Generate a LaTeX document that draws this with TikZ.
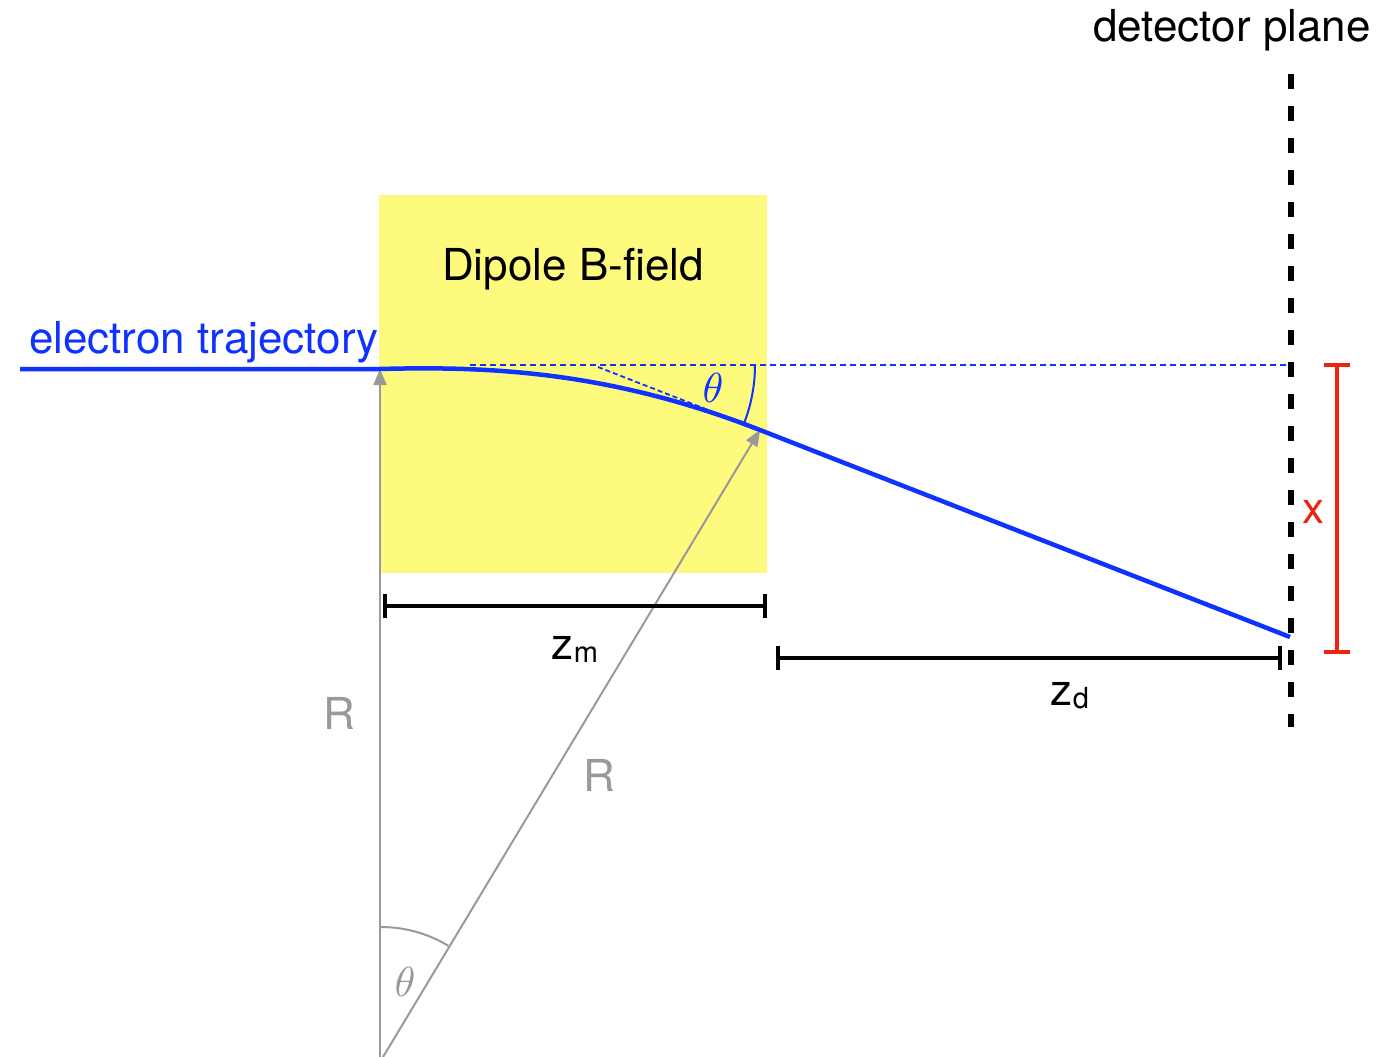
\documentclass[tikz,border=0pt]{standalone}
\usepackage{fontspec}
\setmainfont{TeX Gyre Heros}
\usetikzlibrary{arrows.meta}
\definecolor{eblue}{RGB}{16,50,255}
\definecolor{fieldyellow}{RGB}{253,250,125}
\definecolor{rgray}{RGB}{153,153,153}
\definecolor{xred}{RGB}{238,34,17}
\newcommand\lowsub[1]{\raisebox{-3pt}{\fontsize{29}{29}\selectfont #1}}
\newcommand\bigtheta{\scalebox{4.2}{$\theta$}}
\begin{document}
\begin{tikzpicture}[x=1pt,y=-1pt,
  lbl/.style={inner sep=0pt, font=\fontsize{44}{44}\selectfont, anchor=base},
  thlbl/.style={inner sep=0pt},
  traj/.style={eblue, line width=4.5pt},
  rarrow/.style={rgray, line width=2pt, -{Triangle[length=16pt,width=13pt]}},
  dimbar/.style={line width=4pt, {Bar[width=24pt]}-{Bar[width=24pt]}},
  guide/.style={eblue, line width=2pt, dash pattern=on 6pt off 4pt},
]
\useasboundingbox (0,0) rectangle (1381,1057);

% field region
\node[fill=fieldyellow, inner sep=0pt, minimum width=388pt, minimum height=378pt, anchor=north west] (field) at (379,195) {};
\node[lbl] (fieldlabel) at (573,280) {Dipole B-field};

% coordinates
\coordinate (trajStart) at (20,369);
\coordinate (entry) at (380,369);
\coordinate (exit) at (760,430);
\coordinate (hit) at (1290,637);
\coordinate (origin) at (380,1057);
\coordinate (origin2) at (383,1057);
\coordinate (hStart) at (470,365);
\coordinate (hEnd) at (1290,365);
\coordinate (tanStart) at (598,367);
\coordinate (tanEnd) at (985,518);
\coordinate (zmL) at (383,606);
\coordinate (zmR) at (767,606);
\coordinate (zdL) at (776,658);
\coordinate (zdR) at (1282,658);
\coordinate (xTop) at (1337,363);
\coordinate (xBot) at (1337,654);
\coordinate (detTop) at (1291,74);
\coordinate (detBot) at (1291,727);

% guides
\draw[guide] (hStart) -- (hEnd);
\draw[eblue, line width=1.8pt, dash pattern=on 5pt off 3pt] (tanStart) -- (tanEnd);

% radius arrows
\draw[rarrow] (origin) -- (entry);
\draw[rarrow] (origin2) -- (exit);
\draw[rgray, line width=2pt] (381,927) arc[start angle=-90, end angle=-58.8, radius=130];

% trajectory
\draw[traj] (trajStart) -- (entry) .. controls (490,366) and (610,371.4) .. (exit) -- (hit);

% angle arc
\draw[eblue, line width=2pt] (755,365) arc[start angle=0, end angle=21, radius=160];

% detector
\draw[line width=6pt, dash pattern=on 15pt off 17pt] (detTop) -- (detBot);

% dimensions
\draw[dimbar] (zmL) -- (zmR);
\draw[dimbar] (zdL) -- (zdR);
\draw[xred, line width=4pt, {Bar[width=26pt]}-{Bar[width=26pt]}] (xTop) -- (xBot);

% labels
\node[lbl] (detlabel) at (1232,42) {detector plane};
\node[lbl, text=eblue] (trajlabel) at (204,353) {electron trajectory};
\node[lbl, text=xred] (xlabel) at (1313,523) {x};
\node[lbl] (zmlabel) at (575,659) {z\lowsub{m}};
\node[lbl] (zdlabel) at (1070,705) {z\lowsub{d}};
\node[lbl, text=rgray] (r1label) at (339,729) {R};
\node[lbl, text=rgray] (r2label) at (599,791) {R};
\node[thlbl, text=eblue] (th1label) at (713,388) {\bigtheta};
\node[thlbl, text=rgray] (th2label) at (405,982) {\bigtheta};
\end{tikzpicture}
\end{document}
